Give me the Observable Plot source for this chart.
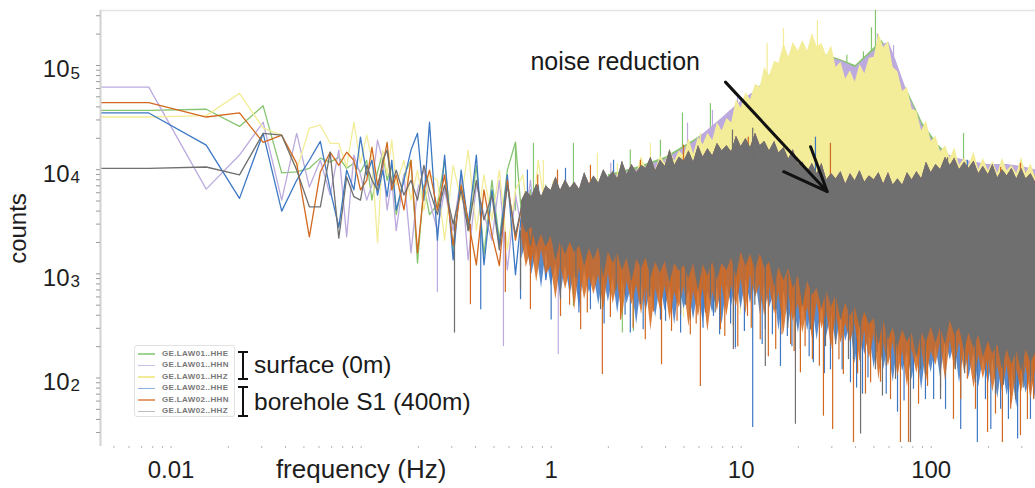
<!DOCTYPE html>
<html>
<head>
<meta charset="utf-8">
<script src="https://cdn.jsdelivr.net/npm/d3@7"></script>
<script src="https://cdn.jsdelivr.net/npm/@observablehq/plot@0.6"></script>
<style>
  html, body { margin: 0; padding: 0; background: #fff; }
  #wrap { position: relative; width: 1035px; height: 488px; overflow: hidden; font-family: "Liberation Sans", Arial, Helvetica, sans-serif; }
  #wrap svg { display: block; }
</style>
</head>
<body>
<div id="wrap"></div>
<script>
// ---------------- DATA ----------------
const seriesNames = ["GE.LAW01..HHE", "GE.LAW01..HHN", "GE.LAW01..HHZ", "GE.LAW02..HHE", "GE.LAW02..HHN", "GE.LAW02..HHZ"];
const groupLabels = ["surface (0m)", "borehole S1 (400m)"];

// axis ticks
const xTickValues = [0.01, 1, 10, 100];
const xTickLabels = ["0.01", "1", "10", "100"];
const xAxisTitle = "frequency (Hz)";
const yTickValues = [100, 1000, 10000, 100000];
const yTickExponents = ["2", "3", "4", "5"];
const yAxisTitle = "counts";
const xDomain = [0.00425, 354];
const yDomain = [22, 3.37e5];

// ---- low-frequency part: individually visible samples (Hz, counts)
const lineFreq = [0.00425, 0.00763, 0.0153, 0.0229, 0.0305, 0.0382, 0.0458, 0.0534, 0.061, 0.0687, 0.0763, 0.0839, 0.0916, 0.0992, 0.107, 0.114, 0.122, 0.13, 0.137, 0.145, 0.153, 0.168, 0.183, 0.198, 0.214, 0.229, 0.252, 0.275, 0.305, 0.336, 0.366, 0.404, 0.443, 0.488, 0.534, 0.588, 0.649, 0.71, 0.778, 0.855, 0.938, 1.03];
const line_LAW01_HHE = [3.7e4, 3.7e4, 3.8e4, 2.6e4, 4.1e4, 9.3e3, 9.5e3, 1.03e4, 1.29e4, 1.18e4, 1.32e4, 1.03e4, 1.15e4, 9.5e3, 1.23e4, 5.1e3, 9.5e3, 1.47e4, 7.9e3, 1.1e4, 3.7e3, 8.9e3, 1.23e4, 1.27e3, 7.1e3, 3.7e3, 4.6e3, 1.23e4, 1.7e3, 8.9e3, 2.6e3, 1.1e4, 1.52e3, 7.9e3, 2.1e3, 9.9e3, 1.83e4, 2.6e3, 6.4e3, 1.7e3, 7.1e3, 2.6e3];
const line_LAW01_HHN = [6.2e4, 6.2e4, 6.5e3, 1.38e4, 2.85e4, 5.1e3, 2.23e4, 6.8e3, 1.23e4, 5.7e3, 1.54e4, 2.26e3, 1.38e4, 8.9e3, 5.1e3, 7.1e3, 1.92e4, 1.23e4, 4.1e3, 7.9e3, 2.6e3, 8.9e3, 1.59e3, 6.4e3, 9.9e3, 5.1e3, 2.6e3, 6.4e3, 2.6e3, 8.9e3, 1.36e3, 7.1e3, 3.7e3, 2.1e3, 7.9e3, 1.09e3, 5.7e3, 2.35e3, 7.9e3, 1.5e3, 5.1e3, 2.1e3];
const line_LAW01_HHZ = [3.2e4, 3.2e4, 3.3e4, 5.4e4, 2.5e4, 2.14e4, 9.9e3, 2.5e4, 2.67e4, 1.79e4, 1.79e4, 1.06e4, 2.85e4, 1.15e4, 2.14e4, 1.23e4, 1.98e3, 1.54e4, 8.9e3, 1.92e4, 7.1e3, 1.23e4, 5.1e3, 9.9e3, 4.1e3, 8.9e3, 7.9e3, 2.1e3, 1.1e4, 5.1e3, 1.54e4, 2.6e3, 8.9e3, 3.3e3, 9.9e3, 1.7e3, 6.4e3, 8.9e3, 2.1e3, 1.23e4, 3.7e3, 7.9e3];
const line_LAW02_HHE = [3.5e4, 3.5e4, 1.72e4, 5.3e3, 2.23e4, 4.0e3, 7.9e3, 1.23e4, 1.87e4, 6.4e3, 2.8e3, 9.9e3, 6.4e3, 2.05e4, 8.9e3, 1.23e4, 5.7e3, 9.9e3, 5.5e3, 1.23e4, 4.1e3, 7.9e3, 1.54e4, 2.23e4, 5.1e3, 2.85e4, 2.1e3, 1.38e4, 1.36e3, 9.9e3, 2.95e3, 1.38e4, 1.22e3, 6.4e3, 1.88e3, 8.9e3, 980, 5.1e3, 1.7e3, 7.1e3, 880, 4.6e3];
const line_LAW02_HHN = [4.4e4, 4.4e4, 3.2e4, 3.5e4, 1.83e4, 2.14e4, 1.15e4, 2.26e3, 9.5e3, 1.47e4, 1.1e4, 1.47e4, 1.23e4, 6.4e3, 7.9e3, 1.64e4, 7.1e3, 1.1e4, 1.83e4, 6.4e3, 8.9e3, 4.1e3, 1.23e4, 1.59e3, 6.4e3, 9.9e3, 4.1e3, 8.9e3, 1.88e3, 7.1e3, 3.3e3, 1.22e3, 6.4e3, 2.35e3, 1.2e3, 7.9e3, 2.1e3, 5.1e3, 1.22e3, 6.4e3, 1.7e3, 4.6e3];
const line_LAW02_HHZ = [1.03e4, 1.03e4, 1.06e4, 8.9e3, 2.23e4, 2.14e4, 9.9e3, 4.4e3, 4.4e3, 1.47e4, 2.2e3, 8.5e3, 5.5e3, 5.1e3, 1.1e4, 7.9e3, 6.4e3, 1.23e4, 1.54e4, 7.1e3, 9.9e3, 5.7e3, 7.9e3, 5.1e3, 1.1e4, 6.4e3, 3.7e3, 7.1e3, 3.0e3, 6.4e3, 2.6e3, 7.9e3, 3.3e3, 5.7e3, 1.7e3, 7.1e3, 2.35e3, 5.1e3, 1.88e3, 5.7e3, 2.1e3, 5.1e3];

// ---- dense part (> 0.7 Hz): ragged edges of the packed spectra, values as log10(counts)
const denseFreq = [0.7, 0.74, 0.79, 0.84, 0.89, 0.94, 1.0, 1.06, 1.12, 1.19, 1.26, 1.33, 1.41, 1.5, 1.59, 1.68, 1.78, 1.89, 2.0, 2.12, 2.24, 2.37, 2.51, 2.66, 2.82, 2.99, 3.16, 3.35, 3.55, 3.76, 3.98, 4.22, 4.47, 4.73, 5.01, 5.31, 5.62, 5.96, 6.31, 6.68, 7.08, 7.5, 7.94, 8.41, 8.91, 9.44, 10, 10.6, 11.2, 11.9, 12.6, 13.3, 14.1, 15, 15.8, 16.8, 17.8, 18.8, 20, 21.1, 22.4, 23.7, 25.1, 26.6, 28.2, 29.9, 31.6, 33.5, 35.5, 37.6, 39.8, 42.2, 44.7, 47.3, 50.1, 53.1, 56.2, 59.6, 63.1, 66.8, 70.8, 75, 79.4, 84.1, 89.1, 94.4, 100, 106, 112, 119, 126, 133, 141, 150, 158, 168, 178, 188, 200, 211, 224, 237, 251, 266, 282, 299, 316, 335, 354];
const LAW02_HHZ_topLog10 = [3.70, 3.79, 3.74, 3.86, 3.74, 3.84, 3.80, 3.93, 3.80, 3.90, 3.82, 3.88, 3.81, 3.97, 3.86, 3.94, 3.87, 4.00, 3.92, 3.98, 3.91, 4.08, 3.95, 4.05, 3.97, 4.04, 4.01, 4.12, 3.99, 4.09, 4.03, 4.19, 4.04, 4.12, 4.08, 4.18, 4.07, 4.23, 4.12, 4.20, 4.13, 4.25, 4.18, 4.23, 4.17, 4.32, 4.22, 4.30, 4.21, 4.35, 4.23, 4.27, 4.18, 4.27, 4.16, 4.21, 4.10, 4.19, 4.05, 4.07, 3.98, 4.06, 3.96, 4.06, 3.90, 3.96, 3.91, 3.98, 3.86, 3.96, 3.89, 3.99, 3.88, 3.94, 3.90, 3.97, 3.86, 3.97, 3.85, 3.91, 3.85, 3.97, 3.90, 3.98, 3.91, 4.07, 3.97, 4.05, 4.00, 4.12, 4.04, 4.11, 4.00, 4.07, 4.01, 4.08, 3.96, 4.03, 3.95, 4.05, 3.92, 4.00, 3.94, 4.01, 3.91, 4.01, 3.91, 3.96, 3.88];
const LAW02_HHZ_bottomLog10 = [3.50, 3.39, 3.45, 3.25, 3.38, 3.25, 3.36, 3.12, 3.31, 3.18, 3.30, 3.20, 3.27, 3.07, 3.24, 3.13, 3.25, 2.96, 3.21, 3.10, 3.20, 3.03, 3.15, 2.92, 3.14, 3.05, 3.15, 2.96, 3.11, 3.00, 3.12, 2.91, 3.10, 3.02, 3.08, 2.95, 3.10, 2.83, 3.09, 2.98, 3.11, 2.94, 3.10, 3.03, 3.15, 2.96, 3.21, 3.07, 3.19, 3.03, 3.19, 3.05, 3.11, 2.87, 3.06, 2.93, 3.05, 2.86, 2.98, 2.68, 2.93, 2.79, 2.86, 2.66, 2.83, 2.68, 2.80, 2.55, 2.72, 2.59, 2.68, 2.48, 2.63, 2.51, 2.57, 2.32, 2.55, 2.36, 2.48, 2.29, 2.46, 2.34, 2.43, 2.19, 2.44, 2.33, 2.49, 2.33, 2.49, 2.32, 2.55, 2.41, 2.48, 2.24, 2.43, 2.28, 2.41, 2.20, 2.35, 2.23, 2.32, 2.08, 2.27, 2.13, 2.26, 2.06, 2.27, 2.14, 2.24];
const LAW02_HHN_bottomLog10 = [3.34, 3.06, 3.25, 2.92, 3.23, 2.99, 3.07, 2.75, 3.09, 2.85, 3.03, 2.65, 3.05, 2.75, 2.97, 2.80, 2.99, 2.65, 3.00, 2.71, 2.92, 2.57, 2.93, 2.70, 2.89, 2.61, 2.91, 2.45, 2.86, 2.65, 2.88, 2.55, 2.82, 2.67, 2.88, 2.49, 2.83, 2.58, 2.86, 2.44, 2.83, 2.64, 2.89, 2.59, 2.89, 2.68, 2.95, 2.61, 2.99, 2.77, 2.90, 2.59, 2.88, 2.61, 2.82, 2.42, 2.81, 2.54, 2.71, 2.43, 2.68, 2.38, 2.73, 2.47, 2.64, 2.27, 2.62, 2.33, 2.52, 2.34, 2.52, 2.15, 2.45, 2.18, 2.42, 1.98, 2.33, 2.11, 2.34, 2.01, 2.26, 1.91, 2.27, 2.04, 2.29, 1.96, 2.26, 2.12, 2.34, 1.97, 2.36, 2.08, 2.34, 2.05, 2.24, 1.90, 2.22, 1.99, 2.20, 1.86, 2.12, 1.87, 2.12, 1.73, 2.08, 1.86, 2.11, 1.79, 2.08];
const LAW02_HHE_bottomLog10 = [3.14, 3.31, 2.99, 3.22, 2.86, 3.20, 2.88, 3.09, 2.77, 3.08, 2.80, 3.02, 2.66, 3.04, 2.81, 2.99, 2.70, 2.99, 2.73, 2.96, 2.62, 2.96, 2.71, 2.89, 2.51, 2.91, 2.63, 2.88, 2.58, 2.90, 2.64, 2.87, 2.51, 2.87, 2.66, 2.84, 2.56, 2.86, 2.53, 2.83, 2.62, 2.87, 2.51, 2.89, 2.69, 2.95, 2.66, 2.95, 2.71, 2.98, 2.61, 2.90, 2.67, 2.83, 2.45, 2.83, 2.52, 2.76, 2.43, 2.72, 2.45, 2.72, 2.36, 2.70, 2.40, 2.62, 2.31, 2.60, 2.35, 2.52, 2.13, 2.50, 2.22, 2.43, 2.09, 2.39, 2.08, 2.32, 1.96, 2.32, 2.06, 2.25, 1.98, 2.28, 1.88, 2.28, 2.05, 2.31, 2.00, 2.37, 2.17, 2.33, 1.95, 2.30, 2.00, 2.24, 1.91, 2.19, 1.94, 2.18, 1.80, 2.13, 1.83, 2.08, 1.72, 2.08, 1.85, 2.07, 1.79];
const LAW01_HHZ_topLog10 = [null, null, null, null, null, null, null, null, null, null, null, null, null, null, null, null, null, null, 3.90, 4.00, 3.90, 4.06, 3.95, 4.03, 3.96, 4.13, 4.00, 4.12, 4.00, 4.13, 4.06, 4.20, 4.08, 4.18, 4.13, 4.30, 4.15, 4.31, 4.24, 4.35, 4.28, 4.45, 4.37, 4.49, 4.45, 4.67, 4.59, 4.74, 4.67, 4.82, 4.79, 4.98, 4.90, 5.04, 5.02, 5.21, 5.08, 5.22, 5.14, 5.24, 5.14, 5.31, 5.18, 5.21, 5.09, 5.19, 4.98, 5.03, 4.87, 4.95, 4.84, 5.01, 4.92, 5.07, 5.08, 5.31, 5.17, 5.23, 4.98, 4.94, 4.75, 4.79, 4.58, 4.56, 4.37, 4.47, 4.27, 4.32, 4.17, 4.23, 4.11, 4.21, 4.04, 4.11, 4.04, 4.17, 4.00, 4.11, 3.99, 4.08, 3.96, 4.11, 3.99, 4.04, 3.96, 4.12, 3.96, 4.06, 3.92];
// smoother upper envelopes of the two other surface components (log10 counts)
const envFreq = [0.7, 1, 1.4, 2, 2.8, 4, 5.6, 8, 10, 12, 14, 17, 20, 24, 28, 33, 40, 47, 55, 60, 65, 75, 90, 110, 130, 160, 200, 250, 300, 354];
const LAW01_HHE_topLog10 = [null, null, null, 3.95, 4.02, 4.12, 4.28, 4.46, 4.60, 4.76, 4.90, 5.04, 5.12, 5.15, 5.10, 5.06, 5.00, 5.12, 5.24, 5.14, 4.95, 4.76, 4.45, 4.23, 4.11, 4.05, 4.02, 4.01, 4.00, 3.98];
const LAW01_HHN_topLog10 = [null, null, null, 3.93, 4.00, 4.10, 4.26, 4.50, 4.66, 4.76, 4.88, 5.02, 5.10, 5.14, 5.08, 5.05, 4.98, 5.10, 5.20, 5.22, 5.06, 4.74, 4.42, 4.20, 4.12, 4.08, 4.05, 4.05, 4.03, 4.00];
const denseCoreLevel = 3000; // a level that always lies inside the packed grey band

// ---- isolated long spikes: [Hz, from (counts), to (counts)]
const spikes_LAW01_HHE = [[0.649, 4e3, 1.83e4], [0.807, 4e3, 1.79e4], [1.31, 4e3, 1.79e4], [2.61, 5e3, 1.54e4], [3.76, 5e3, 1.92e4], [4.91, 5e3, 3.5e4], [6.89, 6e3, 4.3e4], [36, 8e4, 1.25e5], [44, 8e4, 1.35e5], [48.5, 1.2e5, 2.3e5], [50.9, 1.5e5, 3.37e5], [99.3, 6e3, 1.92e4], [148, 6e3, 2.23e4], [1.31, 2e3, 485], [2.37, 2e3, 270], [2.71, 2e3, 279]];
const spikes_LAW01_HHN = [[2.06, 4e3, 1.15e4], [5.22, 6e3, 2.8e4], [7.06, 8e3, 3.7e4], [9.57, 1e4, 4.9e4], [52.1, 1.5e5, 2.0e5], [63.4, 1.2e5, 1.55e5], [0.252, 2.6e3, 660], [0.561, 2.5e3, 200], [1.09, 2e3, 168], [9.33, 1.5e3, 188]];
const spikes_LAW01_HHZ = [[0.91, 4e3, 1.23e4], [1.75, 4e3, 1.44e4], [2.23, 4e3, 1.15e4], [3.33, 4e3, 1.79e4], [6.1, 6e3, 2.23e4], [13.7, 8e4, 1.62e5], [16.7, 1.1e5, 2.26e5], [25.2, 1.5e5, 2.7e5], [4.97, 2e3, 380], [9.9, 1.5e3, 405]];
const spikes_LAW02_HHE = [[0.426, 3e3, 453], [0.69, 2.5e3, 565], [1.0, 2.2e3, 360], [1.4, 2e3, 420], [1.61, 2e3, 453], [1.9, 2e3, 330], [2.45, 2e3, 400], [2.61, 2e3, 270], [3.05, 2e3, 290], [3.76, 2e3, 360], [4.0, 2e3, 350], [4.8, 2e3, 270], [5.4, 1.5e3, 360], [6.3, 1.5e3, 300], [7.15, 1.5e3, 390], [7.7, 1.5e3, 260], [8.8, 1.5e3, 330], [9.33, 1.5e3, 196], [10.4, 1.5e3, 280], [11.5, 1.5e3, 33.5], [12.9, 1.5e3, 210], [13.4, 1.5e3, 291], [14.6, 1.5e3, 260], [16.1, 1.5e3, 129], [17.5, 1.5e3, 250], [18.5, 1e3, 200], [20.5, 800, 188], [22.8, 800, 160], [24.0, 800, 140], [27.4, 800, 110], [29.5, 800, 120], [34, 800, 120], [37.6, 800, 90], [40.5, 800, 80], [43.5, 800, 70], [46.5, 600, 100], [52.1, 800, 175], [58, 450, 70], [66.5, 450, 47], [72, 450, 60], [80.7, 450, 78], [93.3, 450, 62], [103, 450, 62], [119, 450, 50], [143, 450, 32], [175, 450, 24], [193, 450, 62], [206, 450, 32], [232, 450, 50], [255, 450, 40], [285, 450, 26], [333, 450, 40], [0.75, 4e3, 9.9e3], [1.19, 4e3, 1.03e4], [2.13, 4e3, 1.23e4], [4.25, 4e3, 1.38e4], [24.6, 4e3, 2.05e4], [155, 4e3, 1.23e4]];
const spikes_LAW02_HHN = [[0.376, 3e3, 505], [0.574, 2.5e3, 660], [0.778, 2.2e3, 453], [1.12, 2e3, 390], [1.25, 2e3, 500], [1.43, 2e3, 291], [1.55, 2e3, 420], [1.86, 2e3, 108], [2.05, 2e3, 380], [2.32, 2e3, 360], [2.7, 2e3, 300], [3.13, 2e3, 233], [3.45, 2e3, 430], [3.81, 2e3, 134], [4.3, 2e3, 280], [4.6, 2e3, 350], [5.4, 1.5e3, 260], [5.8, 1.5e3, 330], [6.1, 1.5e3, 83], [6.5, 1.5e3, 420], [7.78, 1.5e3, 291], [8.2, 1.5e3, 250], [9.1, 1.5e3, 310], [9.6, 1.5e3, 200], [10.8, 1.5e3, 390], [11.3, 1.5e3, 300], [12.6, 1.5e3, 233], [13.9, 1.5e3, 160], [15.2, 1.5e3, 188], [16.4, 1.2e3, 260], [18.2, 1.5e3, 209], [19, 1e3, 180], [20.5, 800, 112], [21.7, 800, 200], [23.7, 800, 150], [25.8, 800, 130], [27.1, 800, 43], [30.3, 800, 32], [32.7, 700, 150], [34.5, 800, 108], [39.0, 800, 24], [41, 600, 110], [45.1, 800, 70], [48, 500, 90], [54.1, 800, 91], [61.1, 450, 62], [68.9, 450, 24], [76, 450, 24], [85.8, 450, 56], [95.7, 450, 83], [112, 450, 78], [131, 450, 40], [143, 450, 62], [155, 450, 97], [171, 450, 50], [198, 450, 30], [218, 450, 45], [237, 450, 24], [262, 450, 50], [295, 450, 28], [321, 450, 40], [346, 450, 62], [0.85, 4e3, 8.9e3], [1.08, 4e3, 9.9e3], [1.61, 4e3, 1.1e4], [2.95, 4e3, 1.23e4], [4.97, 4e3, 1.72e4], [9.57, 4e3, 1.92e4], [10.9, 4e3, 2.05e4], [14.3, 4e3, 1.54e4], [29.5, 4e3, 1.79e4], [232, 4e3, 1.05e4], [295, 4e3, 1.15e4]];
const spikes_LAW02_HHZ = [[0.31, 3.3e3, 270], [0.69, 2.6e3, 700], [1.12, 2.1e3, 565], [1.35, 2e3, 900], [1.82, 1.9e3, 453], [2.2, 1.7e3, 700], [2.95, 1.5e3, 505], [3.3, 1.3e3, 600], [4.8, 1.4e3, 405], [5.1, 1.2e3, 500], [6.89, 1.4e3, 565], [7.3, 1.3e3, 420], [9.1, 1.6e3, 188], [11.8, 1.5e3, 500], [13.4, 1.4e3, 129], [15.2, 1.3e3, 453], [17.6, 1e3, 300], [19.3, 1.0e3, 36], [23.2, 850, 291], [27.8, 700, 200], [31.4, 650, 209], [36.7, 560, 150], [39, 500, 150], [42.5, 480, 29], [50.9, 380, 120], [55.4, 360, 67], [58, 330, 130], [64.9, 330, 97], [77.8, 300, 24], [88, 280, 120], [93.3, 290, 108], [112, 320, 62], [134, 320, 120], [150, 300, 110], [171, 280, 90], [218, 230, 70], [240, 200, 85], [278, 200, 62], [305, 180, 80], [333, 190, 90], [9.0, 1.1e4, 2.4e4], [11.5, 1.1e4, 2.5e4], [122, 7.9e3, 1.3e4]];

// annotation
const annotationText = [{f: 0.778, v: 8.96e4, label: "noise reduction"}];
const annotationArrow = [{f1: 8.27, v1: 6.92e4, f2: 28.4, v2: 6.14e3}];

// ---------------- STYLE ----------------
const seriesColors = ["#86c56f", "#bcaade", "#f3ec98", "#3d78c4", "#d2691f", "#6f6f6f"];
const legendColors = ["#9fd492", "#cbbfe7", "#f2ec99", "#8fb2e0", "#e6a06e", "#bdbdbd"];
const [cE1, cN1, cZ1, cE2, cN2, cZ2] = seriesColors;

const lineRows = (vals) => lineFreq.map((f, j) => ({f, v: vals[j]}));
const pow = (v) => (v == null ? null : 10 ** v);
const denseRows = denseFreq.map((f, i) => ({
  f,
  gTop: pow(LAW02_HHZ_topLog10[i]),
  gBot: pow(LAW02_HHZ_bottomLog10[i]),
  oBot: pow(LAW02_HHN_bottomLog10[i]),
  bBot: pow(LAW02_HHE_bottomLog10[i]),
  yTop: pow(LAW01_HHZ_topLog10[i])
}));
const envRows = envFreq.map((f, i) => ({f, eTop: pow(LAW01_HHE_topLog10[i]), nTop: pow(LAW01_HHN_topLog10[i]), core: denseCoreLevel}));

const spikeMark = (data, color) => Plot.ruleX(data, {x: d => d[0], y1: d => d[1], y2: d => d[2], stroke: color, strokeWidth: 1.2, clip: true});
const lineMark = (vals, color) => Plot.line(lineRows(vals), {x: "f", y: "v", stroke: color, strokeWidth: 1.3, clip: true});

const marks = [
  Plot.ruleY([yDomain[1]], {stroke: "#e4e4e4", strokeWidth: 1.5}),
  // GE.LAW01..HHE
  Plot.areaY(envRows, {x: "f", y1: "core", y2: "eTop", fill: cE1, clip: true}),
  spikeMark(spikes_LAW01_HHE, cE1),
  lineMark(line_LAW01_HHE, cE1),
  // GE.LAW01..HHN
  Plot.areaY(envRows, {x: "f", y1: "core", y2: "nTop", fill: cN1, clip: true}),
  spikeMark(spikes_LAW01_HHN, cN1),
  lineMark(line_LAW01_HHN, cN1),
  // GE.LAW01..HHZ
  Plot.areaY(denseRows, {x: "f", y1: "gTop", y2: "yTop", fill: cZ1, clip: true}),
  spikeMark(spikes_LAW01_HHZ, cZ1),
  lineMark(line_LAW01_HHZ, cZ1),
  // GE.LAW02..HHE
  Plot.areaY(denseRows, {x: "f", y1: "bBot", y2: "gTop", fill: cE2, fillOpacity: 0.85, clip: true}),
  spikeMark(spikes_LAW02_HHE, cE2),
  lineMark(line_LAW02_HHE, cE2),
  // GE.LAW02..HHN
  Plot.areaY(denseRows, {x: "f", y1: "oBot", y2: "gTop", fill: cN2, fillOpacity: 0.85, clip: true}),
  spikeMark(spikes_LAW02_HHN, cN2),
  lineMark(line_LAW02_HHN, cN2),
  // GE.LAW02..HHZ
  Plot.areaY(denseRows, {x: "f", y1: "gBot", y2: "gTop", fill: cZ2, clip: true}),
  spikeMark(spikes_LAW02_HHZ, cZ2),
  lineMark(line_LAW02_HHZ, cZ2),
  // axes
  Plot.ruleX([xDomain[0]], {stroke: "#d2d2d2", strokeWidth: 2}),
  Plot.axisY({ticks: 60, tickSize: 4, tickFormat: () => "", stroke: "#9a9a9a", label: null}),
  Plot.axisX({ticks: 60, tickSize: 2, tickFormat: () => "", stroke: "#b5b5b5", label: null}),
  Plot.axisX({ticks: xTickValues, tickSize: 0, tickPadding: 14, tickFormat: d => xTickLabels[xTickValues.indexOf(d)], fontSize: 24, fill: "#1e1e1e", label: null}),
  Plot.text([xAxisTitle], {x: () => 0.1, frameAnchor: "bottom", textAnchor: "middle", lineAnchor: "bottom", dy: 31, fontSize: 26, fill: "#1e1e1e"}),
  Plot.text(yTickValues, {y: d => d, frameAnchor: "left", text: () => "10", textAnchor: "end", lineAnchor: "bottom", dx: -31, dy: 12, fontSize: 24, fill: "#1e1e1e"}),
  Plot.text(yTickValues, {y: d => d, frameAnchor: "left", text: d => yTickExponents[yTickValues.indexOf(d)], textAnchor: "start", lineAnchor: "bottom", dx: -30, dy: 13.5, fontSize: 17, fill: "#1e1e1e"}),
  Plot.text([yAxisTitle], {frameAnchor: "left", textAnchor: "middle", lineAnchor: "middle", rotate: -90, dx: -82, fontSize: 24, fill: "#1e1e1e"}),
  // annotation
  Plot.text(annotationText, {x: "f", y: "v", text: "label", textAnchor: "start", lineAnchor: "bottom", fontSize: 25, fill: "#1a1a1a"}),
  Plot.arrow(annotationArrow, {x1: "f1", y1: "v1", x2: "f2", y2: "v2", stroke: "#111", strokeWidth: 3, headLength: 24, headAngle: 45})
];

const chart = Plot.plot({
  width: 1035,
  height: 488,
  marginLeft: 100,
  marginRight: 0,
  marginTop: 10,
  marginBottom: 42,
  x: {type: "log", domain: xDomain, label: null},
  y: {type: "log", domain: yDomain, label: null},
  style: {background: "#fff", fontFamily: "Liberation Sans, Arial, Helvetica, sans-serif", color: "#1e1e1e", overflow: "visible"},
  marks
});
const wrap = document.getElementById("wrap");
wrap.appendChild(chart);

// ---------------- LEGEND (overlay) ----------------
const box = document.createElement("div");
box.style.cssText = "position:absolute;left:134px;top:345px;width:101px;height:72px;border:1px solid #e2e2e2;border-radius:3px;background:#fff;box-sizing:border-box;";
seriesNames.forEach((name, i) => {
  const row = document.createElement("div");
  row.style.cssText = `position:absolute;left:0;top:${2.5 + i * 11.5}px;height:10px;width:99px;`;
  row.innerHTML = `<span style="position:absolute;left:3px;top:4.5px;width:17px;height:1.5px;background:${legendColors[i]}"></span>` +
    `<span style="position:absolute;left:27px;top:0;font:bold 8px 'Liberation Sans',Arial,sans-serif;color:#777;line-height:10px;letter-spacing:0.35px;white-space:nowrap">${name}</span>`;
  box.appendChild(row);
});
wrap.appendChild(box);

const ns = "http://www.w3.org/2000/svg";
const ov = document.createElementNS(ns, "svg");
ov.setAttribute("width", 1035); ov.setAttribute("height", 488);
ov.style.cssText = "position:absolute;left:0;top:0;pointer-events:none;";
const groups = [{y0: 352, y1: 379, base: 373}, {y0: 387, y1: 416, base: 410}];
groups.forEach((g, i) => {
  const p = document.createElementNS(ns, "path");
  p.setAttribute("d", `M238,${g.y0}H248M243,${g.y0}V${g.y1}M238,${g.y1}H248`);
  p.setAttribute("stroke", "#111"); p.setAttribute("stroke-width", "2"); p.setAttribute("fill", "none");
  ov.appendChild(p);
  const t = document.createElementNS(ns, "text");
  t.setAttribute("x", 254); t.setAttribute("y", g.base);
  t.setAttribute("font-family", "Liberation Sans, Arial, sans-serif");
  t.setAttribute("font-size", "24.5"); t.setAttribute("fill", "#1a1a1a");
  t.textContent = groupLabels[i];
  ov.appendChild(t);
});
wrap.appendChild(ov);
</script>
</body>
</html>
